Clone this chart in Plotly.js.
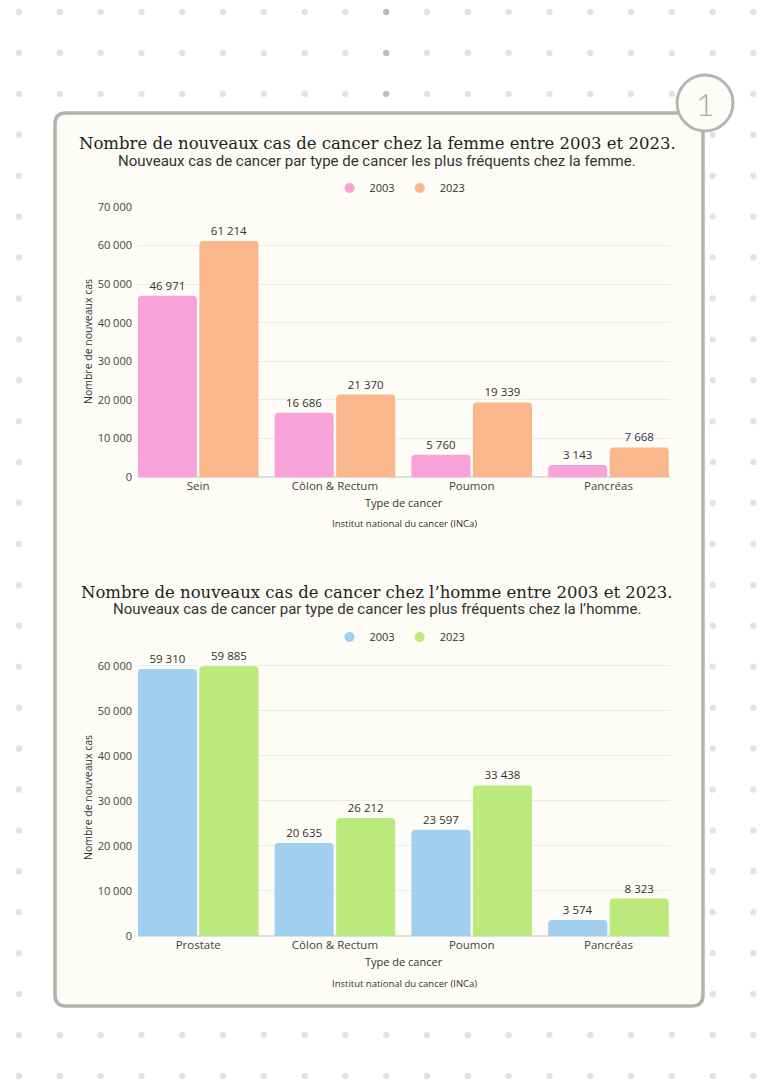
<!DOCTYPE html>
<html>
<head>
<meta charset="utf-8">
<script src="https://cdn.plot.ly/plotly-3.0.1.min.js"></script>
<style>
  html, body { margin: 0; padding: 0; background: #ffffff; }
  #chart { width: 768px; height: 1086px; }
</style>
</head>
<body>
<div id="chart"></div>
<script>
// Nouveaux cas de cancer (INCa), 2003 vs 2023
const categoriesFemme = ['Sein', 'Côlon & Rectum', 'Poumon', 'Pancréas'];
const femme2003 = [46971, 16686, 5760, 3143];
const femme2023 = [61214, 21370, 19339, 7668];

const categoriesHomme = ['Prostate', 'Côlon & Rectum', 'Poumon', 'Pancréas'];
const homme2003 = [59310, 20635, 23597, 3574];
const homme2023 = [59885, 26212, 33438, 8323];

const seriesNames = ['2003', '2023'];
const titreFemme = 'Nombre de nouveaux cas de cancer chez la femme entre 2003 et 2023.';
const sousTitreFemme = 'Nouveaux cas de cancer par type de cancer les plus fréquents chez la femme.';
const titreHomme = 'Nombre de nouveaux cas de cancer chez l\u2019homme entre 2003 et 2023.';
const sousTitreHomme = 'Nouveaux cas de cancer par type de cancer les plus fréquents chez la l\u2019homme.';
const axeY = 'Nombre de nouveaux cas';
const axeX = 'Type de cancer';
const source = 'Institut national du cancer (INCa)';

const W = 768, H = 1086;
const fx = x => x / W;
const fy = y => 1 - y / H;

const colors = {
  femme: ['#f8a2da', '#f9b78b'],
  homme: ['#a0cfef', '#bbe97c']
};

const textFont = { family: 'Open Sans', size: 11.5, color: '#333333' };

function barTrace(cats, vals, name, color, xa, ya) {
  return {
    type: 'bar', x: cats, y: vals, name: name,
    xaxis: xa, yaxis: ya,
    marker: { color: color, line: { width: 0 } },
    texttemplate: '%{y:,}', textposition: 'outside',
    textfont: textFont, constraintext: 'none', cliponaxis: false,
    showlegend: false, hoverinfo: 'x+y+name'
  };
}

// legend entries with round swatches
function legendEntry(name, color, legendId, xa, ya) {
  return {
    type: 'scatter', mode: 'markers', x: [null], y: [null], name: name,
    xaxis: xa, yaxis: ya, legend: legendId,
    marker: { color: color, size: 10, symbol: 'circle' },
    showlegend: true, hoverinfo: 'skip'
  };
}

const data = [
  barTrace(categoriesFemme, femme2003, seriesNames[0], colors.femme[0], 'x', 'y'),
  barTrace(categoriesFemme, femme2023, seriesNames[1], colors.femme[1], 'x', 'y'),
  barTrace(categoriesHomme, homme2003, seriesNames[0], colors.homme[0], 'x2', 'y2'),
  barTrace(categoriesHomme, homme2023, seriesNames[1], colors.homme[1], 'x2', 'y2'),
  legendEntry(seriesNames[0], colors.femme[0], 'legend', 'x', 'y'),
  legendEntry(seriesNames[1], colors.femme[1], 'legend', 'x', 'y'),
  legendEntry(seriesNames[0], colors.homme[0], 'legend2', 'x2', 'y2'),
  legendEntry(seriesNames[1], colors.homme[1], 'legend2', 'x2', 'y2')
];

// background dotted paper
const shapes = [];
for (let j = 0; j < 27; j++) {
  for (let i = 0; i < 19; i++) {
    const cx = 19 + 40.8 * i, cy = 12 + 40.92 * j, r = 3.2;
    const darker = (i === 9 && j < 3);
    shapes.push({
      type: 'circle', xref: 'paper', yref: 'paper', layer: 'below',
      x0: fx(cx - r), x1: fx(cx + r), y0: fy(cy + r), y1: fy(cy - r),
      fillcolor: darker ? '#bdbdbd' : '#e3e3e3', line: { width: 0 }
    });
  }
}

// rounded panel
function roundedRect(x0, y0, x1, y1, r) {
  const rx = r / W, ry = r / H;
  const L = fx(x0), R = fx(x1), T = fy(y0), B = fy(y1);
  return `M ${L + rx},${T} L ${R - rx},${T} Q ${R},${T} ${R},${T - ry} ` +
         `L ${R},${B + ry} Q ${R},${B} ${R - rx},${B} ` +
         `L ${L + rx},${B} Q ${L},${B} ${L},${B + ry} ` +
         `L ${L},${T - ry} Q ${L},${T} ${L + rx},${T} Z`;
}
shapes.push({
  type: 'path', xref: 'paper', yref: 'paper', layer: 'below',
  path: roundedRect(55, 113, 703, 1006, 11),
  fillcolor: '#fdfcf6', line: { color: '#b2b2b2', width: 3.5 }
});
// page number badge
shapes.push({
  type: 'circle', xref: 'paper', yref: 'paper', layer: 'below',
  x0: fx(705 - 28), x1: fx(705 + 28), y0: fy(103 + 28), y1: fy(103 - 28),
  fillcolor: '#fdfcf6', line: { color: '#b5b5b5', width: 3 }
});

function ann(text, x, y, font, extra) {
  return Object.assign({
    text: text, xref: 'paper', yref: 'paper', x: fx(x), y: fy(y),
    xanchor: 'center', yanchor: 'middle', showarrow: false, font: font
  }, extra || {});
}
const titleFont = { family: 'DejaVu Serif', size: 16.5, color: '#1f1f1f' };
const subFont = { family: 'Roboto', size: 15, color: '#333333' };
const axisTitleFont = { family: 'Open Sans', size: 10.5, color: '#333333' };
const sourceFont = { family: 'Open Sans', size: 9.5, color: '#333333' };

const annotations = [
  ann('1', 705, 104, { family: 'Lato', size: 32, color: '#a9a9a9', weight: 300 }),
  ann(titreFemme, 377, 143, titleFont),
  ann(sousTitreFemme, 377, 161, subFont),
  ann(axeY, 88, 342, axisTitleFont, { textangle: -90 }),
  ann(axeX, 404, 502, { family: 'Open Sans', size: 11, color: '#333333' }),
  ann(source, 404, 523, sourceFont),
  ann(titreHomme, 377, 592, titleFont),
  ann(sousTitreHomme, 377, 609, subFont),
  ann(axeY, 88, 798, axisTitleFont, { textangle: -90 }),
  ann(axeX, 404, 961, { family: 'Open Sans', size: 11, color: '#333333' }),
  ann(source, 404, 983, sourceFont)
];

const xCommon = {
  range: [-0.44, 3.45], domain: [fx(138), fx(670)], type: 'category',
  showgrid: false, showline: false, ticks: '', zeroline: false,
  tickfont: { family: 'Open Sans', size: 11.5, color: '#444444' },
  fixedrange: true
};
const yCommon = {
  domain: null, tickformat: ',', dtick: 10000, tick0: 0,
  showgrid: true, gridcolor: '#ebebeb', gridwidth: 1,
  zeroline: true, zerolinecolor: '#dedede', zerolinewidth: 1.5,
  showline: false, ticks: '', ticklabelstandoff: 5,
  tickfont: { family: 'Open Sans', size: 11, color: '#444444' },
  fixedrange: true
};

const legendCommon = {
  orientation: 'h', xref: 'paper', yref: 'paper', x: fx(400), xanchor: 'center',
  yanchor: 'middle', bgcolor: 'rgba(0,0,0,0)',
  font: { family: 'Open Sans', size: 11, color: '#333333' },
  itemwidth: 30, tracegroupgap: 0
};

const layout = {
  width: W, height: H, autosize: false,
  margin: { l: 0, r: 0, t: 0, b: 0, pad: 0 },
  paper_bgcolor: '#ffffff', plot_bgcolor: 'rgba(0,0,0,0)',
  separators: ', ',
  barmode: 'group', bargap: 0.1, bargroupgap: 0.04, barcornerradius: 4,
  xaxis: Object.assign({}, xCommon, { anchor: 'y' }),
  yaxis: Object.assign({}, yCommon, { anchor: 'x', domain: [fy(477), fy(207)], range: [0, 70000] }),
  xaxis2: Object.assign({}, xCommon, { anchor: 'y2' }),
  yaxis2: Object.assign({}, yCommon, { anchor: 'x2', domain: [fy(936), fy(660)], range: [0, 61300] }),
  legend: Object.assign({}, legendCommon, { y: fy(188) }),
  legend2: Object.assign({}, legendCommon, { y: fy(637) }),
  shapes: shapes,
  annotations: annotations,
  hovermode: 'closest'
};

Plotly.newPlot('chart', data, layout, { displayModeBar: false, staticPlot: true });
</script>
</body>
</html>
